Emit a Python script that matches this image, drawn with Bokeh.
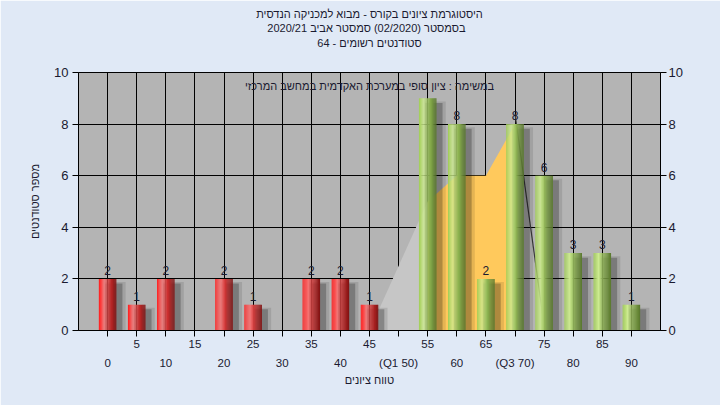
from bokeh.plotting import figure
from bokeh.models import (ColumnDataSource, LinearAxis, FixedTicker, Range1d, Title, Label, Grid)
from bokeh.transform import dodge
from bokeh.core.properties import value
from bokeh.embed import file_html
from bokeh.resources import INLINE

# ---------------- data ----------------
grades = [0, 5, 10, 15, 20, 25, 30, 35, 40, 45, 50, 55, 60, 65, 70, 75, 80, 85, 90]
counts = [2, 1, 2, 0, 2, 1, 0, 2, 2, 1, 0, 9, 8, 2, 8, 6, 3, 3, 1]
x_tick_labels = ["0", "5", "10", "15", "20", "25", "30", "35", "40", "45", "(Q1 50)",
                 "55", "60", "65", "(Q3 70)", "75", "80", "85", "90"]
pass_grade = 55
y_ticks = [0, 2, 4, 6, 8, 10]

gray_area_x = [45, 55]
gray_area_y = [0, 5]
iqr_area_x = [55, 60, 65, 70]
iqr_area_y = [5, 6, 6, 8]
tail_line_x = [70, 75]
tail_line_y = [8.4, 0.2]

title_lines = ["היסטוגרמת ציונים בקורס - מבוא למכניקה הנדסית",
               "בסמסטר  (02/2020)  סמסטר אביב 2020/21",
               "סטודנטים רשומים - 64"]
subtitle = "במשימה : ציון סופי במערכת האקדמית במחשב המרכזי"
x_title = "טווח ציונים"
y_title = "מספר סטודנטים"

FONT = "Liberation Sans"
TXT = "#1a1a30"

x0, x1 = -5, 95
y0, y1 = 0, 10

p = figure(frame_width=582, frame_height=258,
           x_range=Range1d(x0, x1), y_range=Range1d(y0, y1),
           x_axis_type=None, y_axis_type=None,
           output_backend="svg", toolbar_location=None,
           min_border_left=78, min_border_right=60, min_border_top=72, min_border_bottom=75)
p.background_fill_color = "#b4b4b4"
p.border_fill_color = "#e0e9f6"
p.outline_line_color = "black"
p.outline_line_width = 1

# grids
p.add_layout(Grid(dimension=0, ticker=FixedTicker(ticks=grades), grid_line_color="black", grid_line_width=1))
p.add_layout(Grid(dimension=1, ticker=FixedTicker(ticks=y_ticks), grid_line_color="black", grid_line_width=1))

# axes
odd_over = {g: (lbl if i % 2 == 1 else "") for i, (g, lbl) in enumerate(zip(grades, x_tick_labels))}
even_grades = [g for i, g in enumerate(grades) if i % 2 == 0]
even_over = {g: lbl for i, (g, lbl) in enumerate(zip(grades, x_tick_labels)) if i % 2 == 0}

ax1 = LinearAxis(ticker=FixedTicker(ticks=grades), major_label_overrides=odd_over)
ax1.major_tick_out = 6
ax1.major_tick_in = 0
ax1.minor_tick_line_color = None
ax1.major_label_standoff = 3
ax1.major_label_text_font_size = "11.5px"
ax1.major_label_text_font = FONT
ax1.major_label_text_color = TXT
ax1.axis_line_color = "black"
p.add_layout(ax1, "below")

ax2 = LinearAxis(ticker=FixedTicker(ticks=even_grades), major_label_overrides=even_over)
ax2.axis_line_color = None
ax2.major_tick_line_color = None
ax2.minor_tick_line_color = None
ax2.major_tick_out = 0
ax2.major_tick_in = 0
ax2.major_label_standoff = 6
ax2.major_label_text_font_size = "11.5px"
ax2.major_label_text_font = FONT
ax2.major_label_text_color = TXT
ax2.axis_label = x_title
ax2.axis_label_standoff = 2
ax2.axis_label_text_font_size = "11px"
ax2.axis_label_text_font_style = "normal"
ax2.axis_label_text_font = FONT
ax2.axis_label_text_color = TXT
p.add_layout(ax2, "below")

for side in ("left", "right"):
    ay = LinearAxis(ticker=FixedTicker(ticks=y_ticks))
    ay.major_tick_out = 6
    ay.major_tick_in = 0
    ay.minor_tick_line_color = None
    ay.major_label_standoff = 4 if side == "left" else 2
    ay.major_label_text_font_size = "13px"
    ay.major_label_text_font = FONT
    ay.major_label_text_color = TXT
    ay.axis_line_color = "black"
    if side == "left":
        ay.axis_label = y_title
        ay.axis_label_standoff = 10
        ay.axis_label_text_font_size = "11px"
        ay.axis_label_text_font_style = "normal"
        ay.axis_label_text_font = FONT
        ay.axis_label_text_color = TXT
    p.add_layout(ay, side)

# title block: last line sits on an unticked top axis, the two others as titles above it
top_axis = LinearAxis(ticker=FixedTicker(ticks=[]))
top_axis.axis_line_color = None
top_axis.major_tick_line_color = None
top_axis.minor_tick_line_color = None
top_axis.major_tick_out = 0
top_axis.major_tick_in = 0
top_axis.major_label_standoff = 0
top_axis.axis_label = title_lines[2]
top_axis.axis_label_standoff = 24
top_axis.axis_label_text_font_size = "11px"
top_axis.axis_label_text_font_style = "normal"
top_axis.axis_label_text_font = FONT
top_axis.axis_label_text_color = TXT
p.add_layout(top_axis, "above")
for line in (title_lines[1], title_lines[0]):
    p.add_layout(Title(text=line, align="center", text_font_size="11px", text_font_style="normal",
                       text_font=FONT, text_color=TXT, standoff=0), "above")

# areas
p.varea(x=gray_area_x, y1=[0] * len(gray_area_x), y2=gray_area_y, fill_color="#c6c6c6")
p.varea(x=iqr_area_x, y1=[0] * len(iqr_area_x), y2=iqr_area_y, fill_color="#ffc95c")
p.line(x=tail_line_x, y=tail_line_y, line_color="#3a3a3a", line_width=1.2)

# bars with shading
W = 3.0
N = 16
red_stops = [(0.0, (255, 30, 30)), (0.33, (244, 118, 118)), (0.6, (205, 48, 48)), (1.0, (125, 18, 18))]
green_stops = [(0.0, (160, 205, 85)), (0.28, (205, 234, 145)), (0.6, (140, 178, 80)), (1.0, (88, 118, 45))]


def ramp(stops, t):
    for (a, ca), (b, cb) in zip(stops[:-1], stops[1:]):
        if a <= t <= b:
            f = (t - a) / (b - a)
            c = tuple(int(round(ca[j] + (cb[j] - ca[j]) * f)) for j in range(3))
            return "#%02x%02x%02x" % c
    return "#%02x%02x%02x" % stops[-1][1]


fail = dict(grade=[g for g, c in zip(grades, counts) if g < pass_grade],
            count=[c for g, c in zip(grades, counts) if g < pass_grade])
passed = dict(grade=[g for g, c in zip(grades, counts) if g >= pass_grade],
              count=[c for g, c in zip(grades, counts) if g >= pass_grade])

for data, stops in ((fail, red_stops), (passed, green_stops)):
    src = ColumnDataSource(data)
    # soft shadow
    p.vbar(x=dodge("grade", 1.3), top=dodge("count", -0.12), bottom=0, width=W + 0.6, source=src,
           fill_color="black", fill_alpha=0.10, line_color=None)
    p.vbar(x=dodge("grade", 1.05), top=dodge("count", -0.18), bottom=0, width=W, source=src,
           fill_color="black", fill_alpha=0.24, line_color=None)
    sw = W / N
    for i in range(N):
        off = -W / 2 + (i + 0.5) * sw
        col = ramp(stops, (i + 0.5) / N)
        p.vbar(x=dodge("grade", off), top="count", bottom=0, width=sw * 1.08, source=src,
               fill_color=col, line_color=None)

# value labels
lbl = dict(grade=[g for g, c in zip(grades, counts) if 0 < c and c + 1 < y1],
           count=[c for g, c in zip(grades, counts) if 0 < c and c + 1 < y1])
lbl["label"] = [str(c) for c in lbl["count"]]
p.text(x="grade", y="count", text="label", source=ColumnDataSource(lbl),
       text_align="center", text_baseline="bottom", y_offset=-4,
       text_font=value(FONT), text_font_size="12px", text_color=TXT)

# subtitle inside the plot
p.add_layout(Label(x=(x0 + x1) / 2, y=y1, text=subtitle, text_align="center", text_baseline="top",
                   y_offset=-7, text_font=FONT, text_font_size="11px", text_color=TXT))

open("out.html", "w").write(file_html(p, INLINE))
